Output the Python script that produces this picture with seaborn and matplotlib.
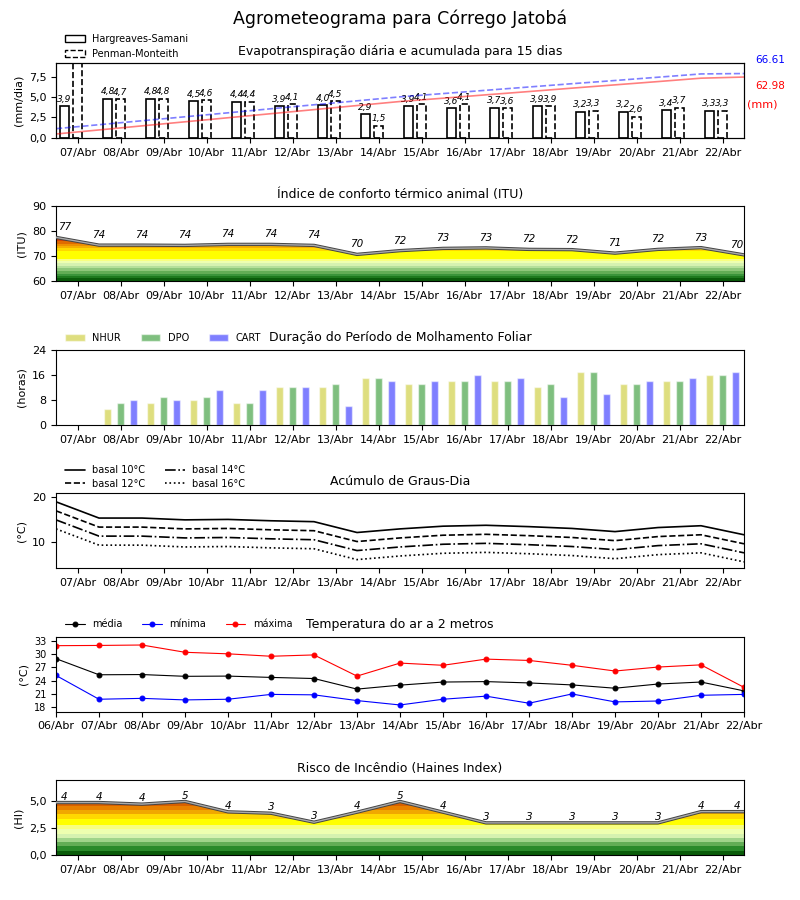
"""
Agrometeograma - Córrego Jatobá
six stacked panels: ET, ITU, molhamento foliar, graus-dia, temperatura, Haines
"""

import numpy as np
import matplotlib
matplotlib.use("Agg")
import matplotlib.pyplot as plt
from matplotlib.colors import ListedColormap, BoundaryNorm
from matplotlib.patches import Patch
from matplotlib.ticker import FuncFormatter
import seaborn as sns

# --------------------
# Data
# --------------------
dias = ["07/Abr", "08/Abr", "09/Abr", "10/Abr", "11/Abr", "12/Abr", "13/Abr", "14/Abr",
        "15/Abr", "16/Abr", "17/Abr", "18/Abr", "19/Abr", "20/Abr", "21/Abr", "22/Abr"]
dias_temp = ["06/Abr"] + dias

# evapotranspiração diária (mm/dia)
et_hs = [3.9, 4.8, 4.8, 4.5, 4.4, 3.9, 4.0, 2.9, 3.9, 3.6, 3.7, 3.9, 3.2, 3.2, 3.4, 3.3]
et_pm = [9.4, 4.7, 4.8, 4.6, 4.4, 4.1, 4.5, 1.5, 4.1, 4.1, 3.6, 3.9, 3.3, 2.6, 3.7, 3.3]
# acumulada (mm)
acum_hs = [4.1, 8.3, 12.5, 16.7, 20.9, 25.1, 29.3, 33.5, 37.7, 41.1, 44.6, 48.0, 51.5,
           54.9, 58.3, 61.8, 62.98]
acum_pm = [9.6, 13.7, 17.8, 21.9, 26.0, 30.2, 34.3, 38.4, 42.5, 45.9, 49.3, 52.7, 56.1,
           59.4, 62.8, 66.2, 66.61]

# índice de conforto térmico
itu = [77.6, 74.5, 74.5, 74.4, 74.8, 74.8, 74.4, 70.8, 72.3, 73.2, 73.4, 72.8, 72.7,
       71.3, 72.8, 73.5, 70.6]

# molhamento foliar (horas)
nhur = [0, 5, 7, 8, 7, 12, 12, 15, 13, 14, 14, 12, 17, 13, 14, 16]
dpo = [0, 7, 9, 9, 7, 12, 13, 15, 13, 14, 14, 13, 17, 13, 14, 16]
cart = [0, 8, 8, 11, 11, 12, 6, 14, 14, 16, 15, 9, 10, 14, 15, 17]

# graus-dia
gd_10 = [19.0, 15.4, 15.4, 15.0, 15.1, 14.8, 14.6, 12.2, 13.0, 13.6, 13.8, 13.5, 13.1, 12.4, 13.3, 13.7, 11.7]
gd_12 = [17.0, 13.4, 13.4, 13.0, 13.1, 12.8, 12.6, 10.2, 11.0, 11.6, 11.8, 11.5, 11.1, 10.4, 11.3, 11.7, 9.7]
gd_14 = [15.0, 11.4, 11.4, 11.0, 11.1, 10.8, 10.6, 8.2, 9.0, 9.6, 9.8, 9.5, 9.1, 8.4, 9.3, 9.7, 7.7]
gd_16 = [13.0, 9.4, 9.4, 9.0, 9.1, 8.8, 8.6, 6.2, 7.0, 7.6, 7.8, 7.5, 7.1, 6.4, 7.3, 7.7, 5.7]

# temperatura do ar (°C)
t_med = [29.0, 25.35, 25.4, 25.0, 25.05, 24.75, 24.5, 22.1, 23.0, 23.7, 23.8, 23.5, 23.05,
         22.3, 23.25, 23.7, 21.7]
t_min = [25.2, 19.8, 20.0, 19.65, 19.8, 20.9, 20.8, 19.5, 18.5, 19.8, 20.5, 18.9, 21.0,
         19.2, 19.4, 20.7, 20.9]
t_max = [31.95, 32.0, 32.1, 30.45, 30.1, 29.55, 29.85, 25.05, 28.0, 27.5, 28.9, 28.6, 27.5,
         26.2, 27.1, 27.6, 22.5]

# risco de incêndio (Haines)
haines = [4.9, 4.9, 4.75, 5.0, 4.03, 3.9, 3.06, 4.0, 5.0, 4.0, 3.0, 3.0, 3.0, 3.0, 3.0, 4.05, 4.05]

# color bands for the filled indices
itu_lim = [60, 61, 62, 63, 64, 65, 66, 67, 68, 69, 72, 73, 74, 75, 76, 77, 90]
itu_cores = ["#0a5c0a", "#1e7a1e", "#3a943a", "#62ad55", "#8ec77a", "#b5e09a", "#d6f2b0",
             "#eeffb0", "#f8ff80", "#ffff00", "#ffd800", "#f5b000", "#ee9000", "#e06a00",
             "#d84000", "#cc1000"]
hi_lim = [0, 0.4, 0.8, 1.2, 1.6, 2.0, 2.4, 2.8, 3.4, 3.8, 4.2, 4.6, 7]
hi_cores = ["#0a5c0a", "#2a8a2a", "#62ad55", "#a0d48a", "#d6f2b0", "#eeffb0", "#f8ff80",
            "#ffff00", "#ffd800", "#f0a800", "#e88000", "#d86000"]

# --------------------
# Style
# --------------------
sns.set_style("ticks", {"axes.edgecolor": "black", "xtick.color": "black",
                        "ytick.color": "black", "text.color": "black",
                        "axes.labelcolor": "black"})
plt.rcParams["font.family"] = ["DejaVu Sans"]

x16 = np.arange(len(dias))
x17 = np.arange(len(itu)) - 0.5
xt = np.arange(len(dias_temp))

virgula = FuncFormatter(lambda v, p: f"{v:.1f}".replace(".", ","))


def eixo_dias(ax):
    ax.set_xticks(x16)
    ax.set_xticklabels(dias)
    ax.set_xlim(-0.5, 15.5)
    ax.tick_params(labelsize=8)


def faixa_colorida(ax, x, y, ymin, ymax, limites, cores):
    cmap = ListedColormap(cores)
    norm = BoundaryNorm(limites, cmap.N)
    grad = np.linspace(ymin, ymax, 500).reshape(-1, 1)
    poly = ax.fill_between(x, ymin, y, color="none", lw=0)
    im = ax.imshow(grad, extent=[x[0], x[-1], ymin, ymax], origin="lower", aspect="auto",
                   cmap=cmap, norm=norm, interpolation="nearest", zorder=1)
    im.set_clip_path(poly.get_paths()[0], transform=ax.transData)
    sns.lineplot(x=x, y=y, ax=ax, color="#444444", lw=2.4, legend=False, zorder=3)
    sns.lineplot(x=x, y=y, ax=ax, color="#aaaaaa", lw=1.0, legend=False, zorder=4)


fig = plt.figure(figsize=(8, 9), dpi=100)
axs = fig.subplots(6, 1)
fig.subplots_adjust(left=0.07, right=0.93, top=0.93, bottom=0.05, hspace=0.913)
fig.suptitle("Agrometeograma para Córrego Jatobá", fontsize=12.5, y=0.99)

# --------------------
# 1. Evapotranspiração
# --------------------
ax = axs[0]
ax.bar(x16 - 0.3, et_hs, width=0.2, facecolor="white", edgecolor="black", lw=1.2, zorder=2)
ax.bar(x16, et_pm, width=0.2, facecolor="white", edgecolor="black", lw=1.2,
       linestyle="--", zorder=2)
for xi, v in zip(x16, et_hs):
    ax.text(xi - 0.3, v + 0.3, f"{v:.1f}".replace(".", ","), ha="center", va="bottom",
            fontsize=6.5, style="italic", clip_on=True)
for xi, v in zip(x16, et_pm):
    ax.text(xi, v + 0.3, f"{v:.1f}".replace(".", ","), ha="center", va="bottom",
            fontsize=6.5, style="italic", clip_on=True)
eixo_dias(ax)
ax.set_ylim(0, 9.15)
ax.set_yticks([0, 2.5, 5, 7.5])
ax.yaxis.set_major_formatter(virgula)
ax.set_ylabel("(mm/dia)", fontsize=8)
ax.set_title("Evapotranspiração diária e acumulada para 15 dias", fontsize=9)
ax.legend(handles=[Patch(facecolor="white", edgecolor="black", label="Hargreaves-Samani"),
                   Patch(facecolor="white", edgecolor="black", linestyle="--",
                         label="Penman-Monteith")],
          loc="lower left", bbox_to_anchor=(0.005, 0.98), frameon=False, fontsize=7,
          borderaxespad=0.2, labelspacing=0.5)

ax2 = ax.twinx()
sns.lineplot(x=x17, y=acum_hs, ax=ax2, color="red", alpha=0.5, lw=1.2, legend=False)
sns.lineplot(x=x17, y=acum_pm, ax=ax2, color="blue", alpha=0.5, lw=1.2, ls="--", legend=False)
ax2.set_ylim(0, 77.5)
ax2.set_yticks([])
ax2.set_ylabel("")
ax2.set_xlim(-0.5, 15.5)
ax.text(1.016, 1.04, f"{acum_pm[-1]:.2f}", transform=ax.transAxes, color="blue",
        fontsize=7.5, va="center")
ax.text(1.016, 0.69, f"{acum_hs[-1]:.2f}", transform=ax.transAxes, color="red",
        fontsize=7.5, va="center")
ax.text(1.004, 0.44, "(mm)", transform=ax.transAxes, color="red", fontsize=8, va="center")

# --------------------
# 2. ITU
# --------------------
ax = axs[1]
faixa_colorida(ax, x17, itu, 60, 90, itu_lim, itu_cores)
for i, (xi, v) in enumerate(zip(x17, itu)):
    if i == 0:
        xi = -0.3
    elif i == len(itu) - 1:
        xi = 15.33
    ax.text(xi, v + 4, str(int(v)), ha="center", va="center", fontsize=7.5, style="italic")
eixo_dias(ax)
ax.set_ylim(60, 90)
ax.set_yticks([60, 70, 80, 90])
ax.set_ylabel("(ITU)", fontsize=8)
ax.set_title("Índice de conforto térmico animal (ITU)", fontsize=9)

# --------------------
# 3. Molhamento foliar
# --------------------
ax = axs[2]
ax.bar(x16 - 0.3, nhur, width=0.16, color="y", alpha=0.5, label="NHUR")
ax.bar(x16, dpo, width=0.16, color="g", alpha=0.5, label="DPO")
ax.bar(x16 + 0.3, cart, width=0.16, color="b", alpha=0.5, label="CART")
eixo_dias(ax)
ax.set_ylim(0, 24)
ax.set_yticks([0, 8, 16, 24])
ax.set_ylabel("(horas)", fontsize=8)
ax.set_title("Duração do Período de Molhamento Foliar", fontsize=9)
ax.legend(loc="lower left", bbox_to_anchor=(0.005, 1.01), ncol=3, frameon=False, fontsize=7,
          borderaxespad=0.2, columnspacing=2.0)

# --------------------
# 4. Graus-dia
# --------------------
ax = axs[3]
sns.lineplot(x=x17, y=gd_10, ax=ax, color="black", lw=1.2, label="basal 10°C")
sns.lineplot(x=x17, y=gd_12, ax=ax, color="black", lw=1.2, ls="--", label="basal 12°C")
sns.lineplot(x=x17, y=gd_14, ax=ax, color="black", lw=1.2, ls="-.", label="basal 14°C")
sns.lineplot(x=x17, y=gd_16, ax=ax, color="black", lw=1.2, ls=":", label="basal 16°C")
eixo_dias(ax)
ax.set_ylim(4.3, 20.9)
ax.set_yticks([10, 20])
ax.set_ylabel("(°C)", fontsize=8)
ax.set_title("Acúmulo de Graus-Dia", fontsize=9)
ax.legend(loc="lower left", bbox_to_anchor=(0.005, 0.98), ncol=2, frameon=False, fontsize=7,
          borderaxespad=0.2, columnspacing=2.0, labelspacing=0.4)

# --------------------
# 5. Temperatura
# --------------------
ax = axs[4]
sns.lineplot(x=xt, y=t_med, ax=ax, color="black", lw=0.8, marker="o", ms=3.5, mec="black",
             label="média")
sns.lineplot(x=xt, y=t_min, ax=ax, color="blue", lw=0.8, marker="o", ms=3.5, mec="blue",
             label="mínima")
sns.lineplot(x=xt, y=t_max, ax=ax, color="red", lw=0.8, marker="o", ms=3.5, mec="red",
             label="máxima")
ax.set_xticks(xt)
ax.set_xticklabels(dias_temp)
ax.set_xlim(0, 16)
ax.tick_params(axis="x", labelsize=8)
ax.tick_params(axis="y", labelsize=7)
ax.set_ylim(17, 34)
ax.set_yticks([18, 21, 24, 27, 30, 33])
ax.set_ylabel("(°C)", fontsize=8)
ax.set_title("Temperatura do ar a 2 metros", fontsize=9)
ax.legend(loc="lower left", bbox_to_anchor=(0.005, 1.02), ncol=3, frameon=False, fontsize=7,
          borderaxespad=0.2, columnspacing=2.0)

# --------------------
# 6. Haines
# --------------------
ax = axs[5]
faixa_colorida(ax, x17, haines, 0, 7, hi_lim, hi_cores)
for i, (xi, v) in enumerate(zip(x17, haines)):
    if i == 0:
        xi = -0.3
    elif i == len(haines) - 1:
        xi = 15.33
    ax.text(xi, v + 0.55, str(int(v)), ha="center", va="center", fontsize=7.5, style="italic")
eixo_dias(ax)
ax.set_ylim(0, 7)
ax.set_yticks([0, 2.5, 5])
ax.yaxis.set_major_formatter(virgula)
ax.set_ylabel("(HI)", fontsize=8)
ax.set_title("Risco de Incêndio (Haines Index)", fontsize=9)

for a in axs:
    a.set_xlabel("")

fig.savefig("out.png", dpi=100)
